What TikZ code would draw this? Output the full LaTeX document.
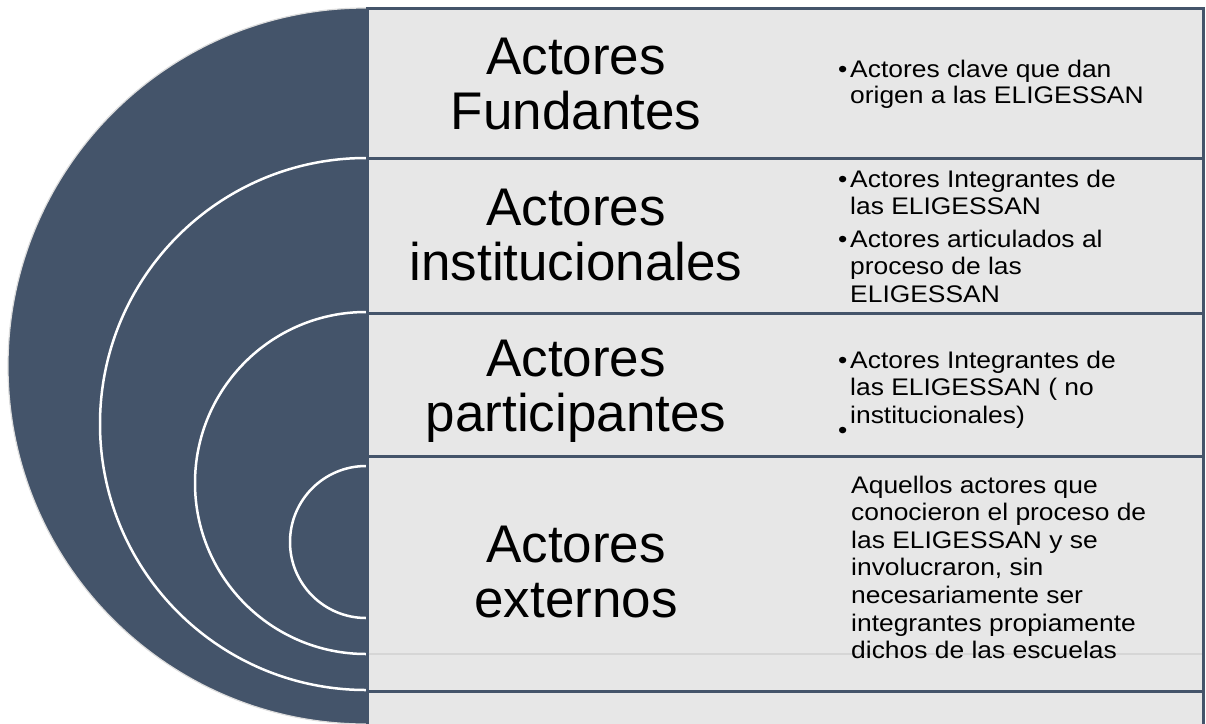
\documentclass[tikz,border=0pt]{standalone}
\usepackage{fontspec}
\setmainfont{Liberation Sans}
\newfontfamily\descfont[FakeStretch=1.1]{Liberation Sans}
\definecolor{slate}{HTML}{44546A}
\definecolor{panel}{HTML}{E7E7E7}
\definecolor{rim}{HTML}{DDDDDD}
\definecolor{faint}{HTML}{D6D6D6}
\newcommand{\titletext}[2]{\vtop{\baselineskip=55pt\halign{\hfil##\hfil\cr #1\cr #2\cr}}}
\newcommand{\desctext}[2][27.6pt]{\vtop{\baselineskip=#1\halign{##\hfil\cr #2\cr}}}
\begin{document}
\begin{tikzpicture}[x=1pt,y=-1pt,
  panelbox/.style={draw=slate, line width=3pt, fill=panel},
  ring/.style={draw=white, line width=2.5pt},
  titlelbl/.style={anchor=base, inner sep=0pt, font=\fontsize{53}{55}\selectfont},
  desclbl/.style={anchor=base west, inner sep=0pt, font=\descfont\fontsize{24}{27.6}\selectfont},
  bulletlbl/.style={anchor=base west, inner sep=0pt, font=\descfont\fontsize{24}{27.6}\selectfont}]
\useasboundingbox (0,0) rectangle (1206,723);
\fill[white] (0,0) rectangle (1206,723);
% nested half targets
\begin{scope}
  \clip (0,0) rectangle (366.5,723);
  \fill[slate] (366,366) circle[radius=358];
  \draw[rim, line width=1.2pt] (366,366) circle[radius=358];
  \draw[ring] (366,424) circle[radius=266];
  \draw[ring] (366,483) circle[radius=171];
  \draw[ring] (366,542) circle[radius=76];
\end{scope}
% panels
\draw[panelbox] (367,691) rectangle (1203,745);
\draw[panelbox] (367,456) rectangle (1203,691);
\draw[panelbox] (367,313) rectangle (1203,456);
\draw[panelbox] (367,158) rectangle (1203,313);
\draw[panelbox] (367,8) rectangle (1203,158);
\coordinate (fl) at (368.5,654);
\coordinate (fr) at (1201.5,654);
\draw[faint, line width=1.5pt] (fl) -- (fr);
% titles
\node[titlelbl] (t1) at (576,74) {\titletext{Actores}{Fundantes}};
\node[titlelbl] (t2) at (576,225) {\titletext{Actores}{institucionales}};
\node[titlelbl] (t3) at (576,376) {\titletext{Actores}{participantes}};
\node[titlelbl] (t4) at (576,562) {\titletext{Actores}{externos}};
% descriptions
\node[bulletlbl] (b1) at (838,77) {•};
\node[desclbl] (d1) at (850,77) {\desctext[26.7pt]{Actores clave que dan\cr origen a las ELIGESSAN}};
\node[bulletlbl] (b2) at (838,187) {•};
\node[desclbl] (d2) at (850,187) {\desctext{Actores Integrantes de\cr las ELIGESSAN}};
\node[bulletlbl] (b3) at (838,247) {•};
\node[desclbl] (d3) at (850,247) {\desctext{Actores articulados al\cr proceso de las\cr ELIGESSAN}};
\node[bulletlbl] (b4) at (838,368) {•};
\node[desclbl] (d4) at (850,368) {\desctext{Actores Integrantes de\cr las ELIGESSAN ( no\cr institucionales)}};
\node[bulletlbl] (b5) at (838,438) {•};
\node[desclbl] (d5) at (851,493) {\desctext{Aquellos actores que\cr conocieron el proceso de\cr las ELIGESSAN y se\cr involucraron, sin\cr necesariamente ser\cr integrantes propiamente\cr dichos de las escuelas}};
\end{tikzpicture}
\end{document}
